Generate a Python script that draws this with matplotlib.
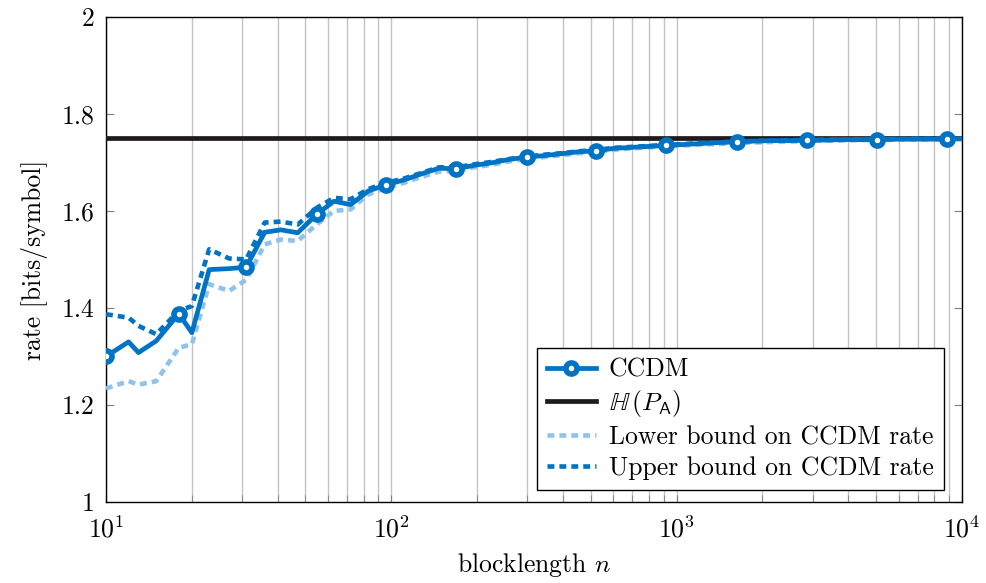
import numpy as np
import matplotlib.pyplot as plt

plt.rcParams['font.family'] = ['cmr10', 'DejaVu Serif']
plt.rcParams['mathtext.fontset'] = 'cm'
plt.rcParams['axes.formatter.use_mathtext'] = True

# blocklengths of the evaluated codes
n_vals = [10, 12, 13, 15, 18, 20, 23, 27, 31, 36, 41, 47, 55, 63, 72, 83, 96,
          111, 127, 147, 169, 195, 224, 258, 298, 343, 395, 455, 524, 603, 695,
          800, 922, 1062, 1223, 1409, 1623, 1869, 2153, 2480, 2857, 3290, 3790,
          4365, 5028, 5791, 6670, 7683, 8850, 10194]

rate_ccdm = [1.300, 1.330, 1.308, 1.332, 1.388, 1.349, 1.479, 1.481, 1.484,
             1.556, 1.561, 1.555, 1.594, 1.620, 1.613, 1.641, 1.654,
             1.664, 1.676, 1.688, 1.687, 1.694, 1.699, 1.706, 1.711, 1.714,
             1.718, 1.722, 1.724, 1.729, 1.731, 1.733, 1.735, 1.737, 1.739,
             1.741, 1.743, 1.744, 1.745, 1.745, 1.746, 1.746, 1.747, 1.747,
             1.747, 1.748, 1.748, 1.748, 1.748, 1.749]

rate_upper = [1.387, 1.380, 1.363, 1.346, 1.394, 1.404, 1.521, 1.502, 1.500,
              1.576, 1.578, 1.572, 1.607, 1.627, 1.624, 1.645, 1.658,
              1.667, 1.678, 1.690, 1.690, 1.696, 1.701, 1.707, 1.712, 1.716,
              1.719, 1.723, 1.726, 1.730, 1.732, 1.734, 1.736, 1.738, 1.740,
              1.741, 1.743, 1.744, 1.745, 1.746, 1.746, 1.747, 1.747, 1.748,
              1.748, 1.748, 1.749, 1.749, 1.749, 1.749]

rate_lower = [1.234, 1.249, 1.242, 1.249, 1.318, 1.325, 1.449, 1.435, 1.458,
              1.531, 1.541, 1.538, 1.573, 1.600, 1.603, 1.634, 1.648,
              1.658, 1.670, 1.681, 1.683, 1.690, 1.695, 1.702, 1.707, 1.711,
              1.715, 1.719, 1.721, 1.726, 1.729, 1.731, 1.733, 1.735, 1.737,
              1.738, 1.740, 1.741, 1.742, 1.743, 1.744, 1.745, 1.745, 1.746,
              1.746, 1.747, 1.747, 1.747, 1.748, 1.748]

entropy = 1.75  # H(P_A) in bits

blue = '#0073C4'
light_blue = '#8EC3EC'
fs = 18.5

fig = plt.figure(figsize=(9.86, 5.83), dpi=100)
ax = fig.add_axes([0.1075, 0.139, 0.868, 0.832])

ax.axhline(entropy, color='#1f1b1c', lw=3.4, zorder=3, label=r'$\mathbb{H}\,(P_{\mathsf{A}})$')
ax.plot(n_vals, rate_lower, color=light_blue, lw=3.3, ls=(0, (1.5, 1.1)), zorder=4,
        label='Lower bound on CCDM rate')
ax.plot(n_vals, rate_upper, color=blue, lw=3.3, ls=(0, (1.5, 1.1)), zorder=5,
        label='Upper bound on CCDM rate')
ax.plot(n_vals, rate_ccdm, color=blue, lw=3.4, marker='o', markevery=4,
        ms=8, mew=4, mfc='white', mec=blue, zorder=6, label='CCDM')

ax.set_xscale('log')
ax.set_xlim(10, 1e4)
ax.set_ylim(1, 2)
ax.set_yticks([1, 1.2, 1.4, 1.6, 1.8, 2])
ax.set_yticklabels(['1', '1.2', '1.4', '1.6', '1.8', '2'])

ax.grid(True, which='both', axis='x', color='#c4c4c4', lw=1.0)
ax.grid(False, axis='y')
ax.tick_params(axis='both', which='both', direction='in', labelsize=fs)
ax.tick_params(axis='y', which='major', length=6, right=True, color='#7f7f7f', pad=8)
ax.tick_params(axis='x', which='both', length=5, top=False, color='#7f7f7f')
ax.tick_params(axis='x', which='major', pad=10)
for sp in ax.spines.values():
    sp.set_linewidth(1.0)

ax.set_xlabel(r'blocklength $n$', fontsize=fs, labelpad=6)
ax.set_ylabel('rate [bits/symbol]', fontsize=fs, labelpad=10)

handles, labels = ax.get_legend_handles_labels()
order = [3, 0, 1, 2]
leg = ax.legend([handles[i] for i in order], [labels[i] for i in order],
                loc='lower right', bbox_to_anchor=(0.979, 0.025),
                fontsize=fs, frameon=True, fancybox=False,
                edgecolor='black', framealpha=1, handlelength=1.9,
                borderaxespad=0, labelspacing=0.25, handletextpad=0.5,
                borderpad=0.4)
leg.get_frame().set_linewidth(1.0)

fig.savefig('out.png', dpi=100)
